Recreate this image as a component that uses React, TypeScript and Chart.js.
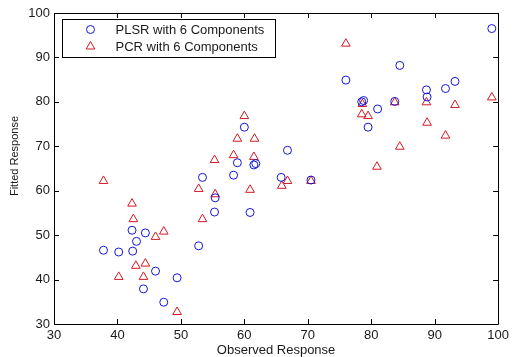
import React, { useEffect, useRef } from "react";
import { Chart, registerables } from "chart.js";

Chart.register(...registerables);

const seriesLabels = ["PLSR with 6 Components", "PCR with 6 Components"];

const plsrObserved = [37.8, 40.2, 42.4, 42.3, 43.0, 44.4, 46.0, 44.1, 49.4, 47.3, 52.8, 53.4, 55.3, 55.4, 58.3, 60.9, 60.0, 58.9, 61.5, 61.8, 66.8, 65.8, 70.5, 99.0, 84.5, 76.0, 88.7, 91.7, 93.2, 88.8, 78.5, 78.8, 83.7, 81.0, 79.5];
const plsrFitted = [46.6, 46.2, 46.4, 51.1, 48.6, 50.5, 41.9, 37.9, 40.4, 34.9, 47.6, 63.0, 55.2, 58.4, 63.5, 55.1, 74.3, 66.3, 65.8, 66.1, 69.1, 63.0, 62.4, 96.5, 88.2, 84.9, 82.7, 83.0, 84.6, 81.1, 80.0, 80.3, 80.1, 78.4, 74.3];

const pcrObserved = [37.8, 40.2, 42.3, 42.5, 42.9, 44.4, 44.1, 46.0, 47.3, 49.4, 52.8, 53.4, 55.4, 60.9, 60.0, 55.3, 58.3, 58.9, 61.6, 61.5, 65.9, 66.8, 70.5, 76.0, 99.0, 93.2, 88.7, 83.7, 78.6, 78.5, 79.5, 88.8, 91.7, 84.5, 80.9];
const pcrFitted = [62.2, 40.6, 57.1, 53.6, 43.1, 43.6, 40.6, 49.6, 50.8, 32.7, 60.4, 53.6, 59.2, 60.2, 76.8, 66.9, 68.0, 71.7, 71.7, 67.6, 61.1, 62.2, 62.2, 93.1, 81.0, 79.3, 79.9, 79.9, 79.5, 77.2, 76.8, 75.3, 72.4, 69.9, 65.4];

const xTicks = [30, 40, 50, 60, 70, 80, 90, 100];
const yTicks = [30, 40, 50, 60, 70, 80, 90, 100];

const xTitle = "Observed Response";
const yTitle = "Fitted Response";

const FONT = "'Liberation Sans', Arial, sans-serif";
const BLUE = "rgb(20,20,220)";
const RED = "rgb(210,25,35)";
const TEXT = "#1a1a1a";

const boxPlugin = {
  id: "matlabBox",
  afterDraw(chart: any) {
    const { ctx, chartArea } = chart;
    const { left, right, top, bottom } = chartArea;
    const xs = chart.scales.x;
    const ys = chart.scales.y;
    ctx.save();
    ctx.strokeStyle = "#000";
    ctx.lineWidth = 1;
    ctx.beginPath();
    ctx.rect(Math.round(left) + 0.5, Math.round(top) + 0.5, Math.round(right - left), Math.round(bottom - top));
    ctx.stroke();
    const tl = 5;
    ctx.beginPath();
    xTicks.forEach((v) => {
      const px = Math.round(xs.getPixelForValue(v)) + 0.5;
      ctx.moveTo(px, bottom);
      ctx.lineTo(px, bottom - tl);
      ctx.moveTo(px, top);
      ctx.lineTo(px, top + tl);
    });
    yTicks.forEach((v) => {
      const py = Math.round(ys.getPixelForValue(v)) + 0.5;
      ctx.moveTo(left, py);
      ctx.lineTo(left + tl, py);
      ctx.moveTo(right, py);
      ctx.lineTo(right - tl, py);
    });
    ctx.stroke();
    // y-axis title, placed as in the reference
    ctx.translate(15, 156);
    ctx.rotate(-Math.PI / 2);
    ctx.fillStyle = TEXT;
    ctx.font = `11px ${FONT}`;
    ctx.textAlign = "center";
    ctx.textBaseline = "middle";
    ctx.fillText(yTitle, 0, 0);
    ctx.restore();
  },
};

const legendPlugin = {
  id: "boxedLegend",
  afterDraw(chart: any) {
    const { ctx, chartArea } = chart;
    const bx = chartArea.left + 8.5;
    const by = chartArea.top + 6.5;
    const bw = 213;
    const bh = 38;
    ctx.save();
    ctx.fillStyle = "#fff";
    ctx.strokeStyle = "#000";
    ctx.lineWidth = 1;
    ctx.fillRect(bx, by, bw, bh);
    ctx.strokeRect(bx, by, bw, bh);
    ctx.font = `13px ${FONT}`;
    ctx.textBaseline = "middle";
    ctx.textAlign = "left";
    const rows = [
      { y: by + 10, style: "circle", color: BLUE, r: 4 },
      { y: by + 27, style: "triangle", color: RED, r: 5 },
    ];
    rows.forEach((row, i) => {
      const mx = bx + 28;
      ctx.strokeStyle = row.color;
      ctx.lineWidth = 1;
      ctx.beginPath();
      if (row.style === "circle") {
        ctx.arc(mx, row.y, row.r, 0, Math.PI * 2);
      } else {
        const r = row.r;
        ctx.moveTo(mx, row.y - r);
        ctx.lineTo(mx + Math.sin(Math.PI * 2 / 3) * r, row.y - Math.cos(Math.PI * 2 / 3) * r);
        ctx.lineTo(mx - Math.sin(Math.PI * 2 / 3) * r, row.y - Math.cos(Math.PI * 2 / 3) * r);
        ctx.closePath();
      }
      ctx.stroke();
      ctx.fillStyle = TEXT;
      ctx.fillText(seriesLabels[i], bx + 53, row.y + 1);
    });
    ctx.restore();
  },
};

export default function App() {
  const ref = useRef<HTMLCanvasElement | null>(null);
  useEffect(() => {
    document.body.style.margin = "0";
    const canvas = ref.current;
    if (!canvas) return;
    const chart = new Chart(canvas, {
      type: "scatter",
      data: {
        datasets: [
          {
            label: seriesLabels[0],
            data: plsrObserved.map((x, i) => ({ x, y: plsrFitted[i] })),
            pointStyle: "circle",
            pointRadius: 4,
            pointBorderWidth: 1,
            borderColor: BLUE,
            backgroundColor: "rgba(0,0,0,0)",
          },
          {
            label: seriesLabels[1],
            data: pcrObserved.map((x, i) => ({ x, y: pcrFitted[i] })),
            pointStyle: "triangle",
            pointRadius: 5,
            pointBorderWidth: 1,
            borderColor: RED,
            backgroundColor: "rgba(0,0,0,0)",
          },
        ],
      },
      options: {
        responsive: false,
        animation: false,
        events: [],
        layout: { padding: { left: 0, right: 11, top: 13, bottom: 0 } },
        plugins: {
          legend: { display: false },
          tooltip: { enabled: false },
        },
        scales: {
          x: {
            type: "linear",
            min: 30,
            max: 100,
            afterBuildTicks: (s: any) => {
              s.ticks = xTicks.map((v) => ({ value: v }));
            },
            afterFit: (s: any) => {
              s.height = 33;
            },
            grid: { display: false, drawTicks: false },
            border: { display: false },
            ticks: { color: TEXT, padding: 4, maxRotation: 0, autoSkip: false, font: { family: FONT, size: 13 } },
            title: { display: true, text: xTitle, color: TEXT, padding: { top: 0, bottom: 0 }, font: { family: FONT, size: 13, lineHeight: 1 } },
          },
          y: {
            type: "linear",
            min: 30,
            max: 100,
            afterBuildTicks: (s: any) => {
              s.ticks = yTicks.map((v) => ({ value: v }));
            },
            afterFit: (s: any) => {
              s.width = 54;
            },
            grid: { display: false, drawTicks: false },
            border: { display: false },
            ticks: { color: TEXT, padding: 4, autoSkip: false, font: { family: FONT, size: 13 } },
            title: { display: false },
          },
        },
      },
      plugins: [boxPlugin, legendPlugin],
    } as any);
    return () => chart.destroy();
  }, []);
  return (
    <div style={{ width: 513, height: 357 }}>
      <canvas ref={ref} width={513} height={357} style={{ display: "block", width: 513, height: 357 }} />
    </div>
  );
}
